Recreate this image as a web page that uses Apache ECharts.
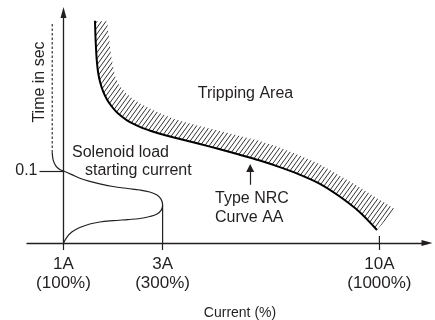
<!DOCTYPE html>
<html><head><meta charset="utf-8">
<script src="https://cdn.jsdelivr.net/npm/echarts@6/dist/echarts.min.js"></script>
<style>html,body{margin:0;padding:0;background:#fff}#c{width:435px;height:320px}</style>
</head><body><div id="c"></div>
<script>
// ---- data (schematic units) ----
const xTickValues = [9.125, 33.9, 88.1];
const xTickLabels = ['1A\n(100%)', '3A\n(300%)', '10A\n(1000%)'];
const yTickValues = [0.1];
const yTickLabels = ['0.1'];

const tripX = [17, 17.1, 17.3, 17.5, 17.8, 18.3, 19, 20, 21, 22, 23, 25, 26.5, 28.5, 31, 33, 36.5, 40, 43, 48, 53, 58, 63, 68, 73, 78, 83, 87.5];
const tripY = [0.3088, 0.2889, 0.2653, 0.2500, 0.2361, 0.2229, 0.2111, 0.1993, 0.1910, 0.1843, 0.1788, 0.1704, 0.1657, 0.1606, 0.1556, 0.1521, 0.1468, 0.1419, 0.1378, 0.1306, 0.1229, 0.1149, 0.1058, 0.0954, 0.0829, 0.0653, 0.0438, 0.0181];

const bandX     = [17, 17.1, 17.3, 17.5, 17.8, 18.3, 19, 20, 21, 22, 23, 25, 26.5, 28.5, 31, 33, 36.5, 40, 43, 48, 53, 58, 63, 68, 73, 78, 83, 87.5, 90, 92];
const bandBaseY = [0.3088, 0.2889, 0.2653, 0.2500, 0.2361, 0.2229, 0.2111, 0.1993, 0.1910, 0.1843, 0.1788, 0.1704, 0.1657, 0.1606, 0.1556, 0.1521, 0.1468, 0.1419, 0.1378, 0.1306, 0.1229, 0.1149, 0.1058, 0.0954, 0.0829, 0.0653, 0.0438, 0.0181, 0.034, 0.047];
const bandTopY  = [0.3088, 0.308, 0.308, 0.308, 0.308, 0.308, 0.308, 0.308, 0.261, 0.232, 0.219, 0.207, 0.200, 0.193, 0.186, 0.181, 0.173, 0.167, 0.1625, 0.156, 0.149, 0.142, 0.133, 0.122, 0.110, 0.094, 0.078, 0.062, 0.054, 0.047];

const solDashX = [6.3, 6.3];
const solDashY = [0.304, 0.126];
const solX = [6.3, 6.55, 7.2, 8.2, 9.125, 11.2, 13.2, 15.7, 18.2, 21.5, 25.2, 28.2, 30.7, 32.5, 33.5, 33.9, 33.6, 32.5, 30.7, 28.2, 25.2, 21.5, 18.2, 15.7, 13.2, 11.2, 10, 9.125];
const solY = [0.126, 0.115, 0.107, 0.102, 0.1, 0.095, 0.090, 0.0855, 0.082, 0.0785, 0.0757, 0.0736, 0.0708, 0.0667, 0.061, 0.053, 0.046, 0.0403, 0.0368, 0.034, 0.0326, 0.031, 0.0292, 0.0264, 0.0215, 0.0153, 0.0083, 0];

const dropX = [33.9, 33.9];
const dropY = [0.053, 0];
const markX = [88.1, 88.1];
const markY = [0, 0.0097];
const pointerX = [55.8, 55.8];
const pointerY = [0.081, 0.104];

// ---- helpers ----
const zip = (xs, ys) => xs.map((x, i) => [x, ys[i]]);
const FONT = 'Liberation Sans, Arial, Helvetica, sans-serif';
const INK = '#231f20';

function hatchPattern() {
  const w = 45, h = 62, step = 4.5;
  const c = document.createElement('canvas');
  c.width = w; c.height = h;
  const g = c.getContext('2d');
  g.strokeStyle = '#1a1a1a';
  g.lineWidth = 0.9;
  for (let k = -12; k <= 12; k++) {
    g.beginPath();
    g.moveTo(k * step, h);
    g.lineTo(k * step + w, 0);
    g.stroke();
  }
  return c;
}
const pattern = { image: hatchPattern(), repeat: 'repeat' };

const chart = echarts.init(document.getElementById('c'), null, { renderer: 'canvas' });
chart.setOption({
  animation: false,
  backgroundColor: '#fff',
  grid: { left: 27, right: 8, top: 12.6, bottom: 77, outerBoundsMode: 'none', containLabel: false },
  xAxis: {
    type: 'value', min: 0, max: 100,
    splitLine: { show: false },
    axisLine: { show: true, onZero: false, symbol: ['none', 'triangle'], symbolSize: [6, 11],
      lineStyle: { color: INK, width: 1.3 } },
    axisTick: { show: true, customValues: xTickValues, length: 7, inside: false,
      lineStyle: { color: INK, width: 1.2 } },
    axisLabel: { show: true, customValues: xTickValues, margin: 11.5,
      formatter: v => { const i = xTickValues.findIndex(t => Math.abs(t - v) < 1e-6); return i >= 0 ? xTickLabels[i] : ''; },
      color: INK, fontSize: 17, lineHeight: 19, fontFamily: FONT }
  },
  yAxis: {
    type: 'value', min: 0, max: 0.32, offset: -36.5,
    splitLine: { show: false },
    axisLine: { show: true, onZero: false, symbol: ['none', 'triangle'], symbolSize: [6, 11],
      lineStyle: { color: INK, width: 1.3 } },
    axisTick: { show: true, customValues: yTickValues, length: 24, inside: false,
      lineStyle: { color: INK, width: 1.2 } },
    axisLabel: { show: true, customValues: yTickValues, margin: 26,
      formatter: v => { const i = yTickValues.findIndex(t => Math.abs(t - v) < 1e-6); return i >= 0 ? yTickLabels[i] : ''; },
      color: INK, fontSize: 16, fontFamily: FONT }
  },
  series: [
    {
      type: 'custom', name: 'hatch', clip: false, silent: true, z: 1,
      data: [[0, 0]],
      renderItem: function (params, api) {
        const pts = [];
        for (let i = 0; i < bandX.length; i++) pts.push(api.coord([bandX[i], bandTopY[i]]));
        for (let i = bandX.length - 1; i >= 0; i--) pts.push(api.coord([bandX[i], bandBaseY[i]]));
        return { type: 'polygon', shape: { points: pts }, style: { fill: pattern, stroke: null } };
      }
    },
    {
      type: 'line', name: 'Type NRC Curve AA', data: zip(tripX, tripY), showSymbol: false, symbol: 'none',
      smooth: 0.3, z: 3,
      lineStyle: { color: '#000', width: 2 }
    },
    {
      type: 'line', name: 'dash', data: zip(solDashX, solDashY), symbol: 'none',
      lineStyle: { color: INK, width: 1.1, type: [2.5, 2] }
    },
    {
      type: 'line', name: 'Solenoid load starting current', data: zip(solX, solY), symbol: 'none',
      smooth: 0.35,
      lineStyle: { color: INK, width: 1.2 }
    },
    {
      type: 'line', name: 'drop', data: zip(dropX, dropY), symbol: 'none',
      lineStyle: { color: INK, width: 1.2 }
    },
    {
      type: 'line', name: 'mark10', data: zip(markX, markY), symbol: 'none',
      lineStyle: { color: INK, width: 1.2 }
    },
    {
      type: 'lines', coordinateSystem: 'cartesian2d', name: 'pointer',
      symbol: ['none', 'triangle'], symbolSize: [5, 8],
      data: [{ coords: zip(pointerX, pointerY) }],
      lineStyle: { color: INK, width: 1.2, opacity: 1 }
    }
  ],
  graphic: [
    { type: 'text', x: 245.5, y: 94, style: { text: 'Tripping Area', fill: INK, fontSize: 16, fontFamily: FONT, align: 'center', verticalAlign: 'middle', textAlign: 'center', textVerticalAlign: 'middle' } },
    { type: 'text', x: 72, y: 153, style: { text: 'Solenoid load', fill: INK, fontSize: 16, fontFamily: FONT, align: 'left', verticalAlign: 'middle', textAlign: 'left', textVerticalAlign: 'middle' } },
    { type: 'text', x: 85, y: 171, style: { text: 'starting current', fill: INK, fontSize: 16, fontFamily: FONT, align: 'left', verticalAlign: 'middle', textAlign: 'left', textVerticalAlign: 'middle' } },
    { type: 'text', x: 215, y: 189.5, style: { text: 'Type NRC\nCurve AA', fill: INK, fontSize: 16, lineHeight: 19, fontFamily: FONT, align: 'left', verticalAlign: 'top', textAlign: 'left', textVerticalAlign: 'top' } },
    { type: 'text', x: 39.5, y: 82, rotation: Math.PI / 2, style: { text: 'Time in sec', fill: INK, fontSize: 16, fontFamily: FONT, align: 'center', verticalAlign: 'middle', textAlign: 'center', textVerticalAlign: 'middle' } },
    { type: 'text', x: 240, y: 313, style: { text: 'Current (%)', fill: INK, fontSize: 14, fontFamily: FONT, align: 'center', verticalAlign: 'middle', textAlign: 'center', textVerticalAlign: 'middle' } }
  ]
});
</script></body></html>
